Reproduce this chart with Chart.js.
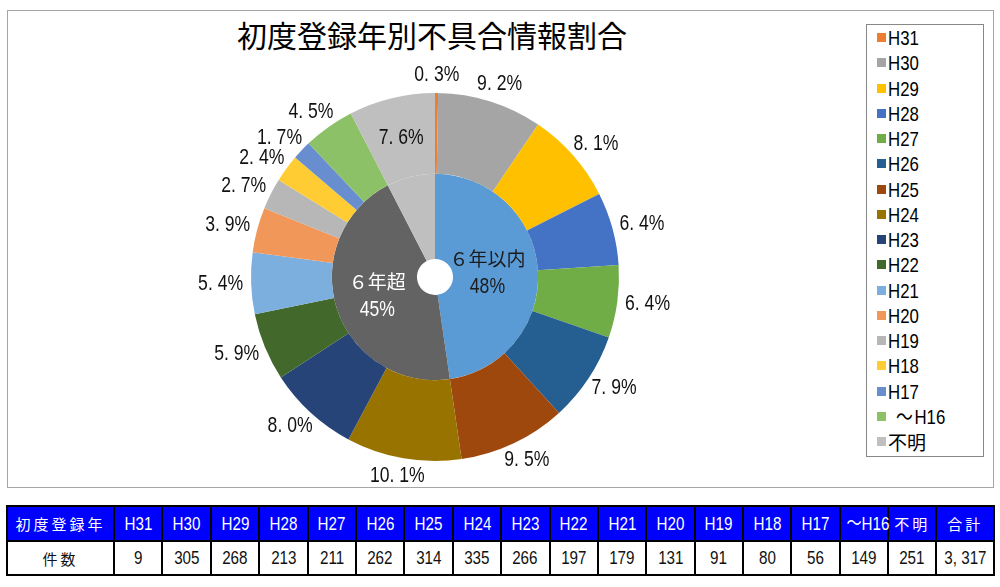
<!DOCTYPE html>
<html>
<head>
<meta charset="utf-8">
<script src="https://cdn.jsdelivr.net/npm/chart.js@4/dist/chart.umd.min.js"></script>
<style>
  body { margin: 0; background: #fff; width: 1000px; height: 587px; position: relative; overflow: hidden; }
  #frame { position: absolute; left: 7px; top: 10px; width: 985px; height: 476px; border: 1px solid #a6a6a6; }
  #title { position: absolute; left: 0; top: 17px; width: 864px; text-align: center;
    font: 30px "Noto Sans CJK JP", sans-serif; line-height: 34px; color: #000; }
  #wrap { position: absolute; left: 0; top: 0; width: 860px; height: 490px; }
  #legend { position: absolute; left: 866px; top: 24px; width: 118px; height: 433px; border: 1px solid #888;
    box-sizing: border-box; padding-top: 0; }
  #legend div { height: 25.25px; display: flex; align-items: center; font: 21px "Liberation Sans", sans-serif;
    color: #000; white-space: nowrap; }
  #legend span { flex: none; width: 9px; height: 9px; margin: 0 2px 0 10px; }
  #legend b { display: block; font-weight: normal; line-height: 1; transform: scaleX(0.8); transform-origin: 0 50%; }
  #legend b.jp { font-family: "Noto Sans CJK JP", sans-serif; font-size: 19px; transform: none; }
  .til { font-family: "Noto Sans CJK JP", sans-serif; line-height: 1; }
  table { position: absolute; left: 6px; top: 505px; border-collapse: collapse; table-layout: fixed; width: 986px; }
  td { border: 2px solid #000; text-align: center; padding: 0; white-space: nowrap;
    font: 19px "Liberation Sans", sans-serif; }
  td i { display: inline-block; font-style: normal; transform: scaleX(0.8); }
  tr.head td { background: #0000ff; color: #fff; height: 33px; }
  tr.body td { background: #fff; color: #111; height: 32px; }
  td.jp { font-family: "Noto Sans CJK JP", sans-serif; font-size: 15px; letter-spacing: 3px; }
</style>
</head>
<body>
<div id="frame"></div>
<div id="title">初度登録年別不具合情報割合</div>
<div id="wrap"><canvas id="grafico"></canvas></div>
<div id="legend"></div>
<table id="tabela"></table>
<script>
const years = ['H31', 'H30', 'H29', 'H28', 'H27', 'H26', 'H25', 'H24', 'H23', 'H22', 'H21', 'H20', 'H19', 'H18', 'H17', '～H16', '不明'];
const counts = [9, 305, 268, 213, 211, 262, 314, 335, 266, 197, 179, 131, 91, 80, 56, 149, 251];
const totalCount = 3317;
const groupLabels = ['６年以内', '６年超', '不明'];
const groupCounts = [1582, 1484, 251];

const outerColors = ['#ed7d31', '#a5a5a5', '#ffc000', '#4472c4', '#70ad47', '#255e91', '#9e480e', '#997300',
    '#264478', '#43682b', '#7cafdd', '#f1975a', '#b7b7b7', '#ffcd33', '#698ed0', '#8cc168', '#bfbfbf'];
const innerColors = ['#5b9bd5', '#636363', '#bfbfbf'];

// o til largo precisa da fonte CJK
function marcaTil(s) { return s.replace('～', '<span class="til">～</span>'); }

// legenda
const legend = document.getElementById('legend');
years.forEach(function(y, i) {
    const d = document.createElement('div');
    d.innerHTML = '<span style="background:' + outerColors[i] + '"></span><b' + (y === '不明' ? ' class="jp"' : '') + '>' + marcaTil(y) + '</b>';
    legend.appendChild(d);
});

// tabela
const tabela = document.getElementById('tabela');
let cols = '<colgroup><col style="width:107px">';
years.forEach(function(y, i) { cols += '<col style="width:' + (i === years.length - 1 ? 48 : 48.4) + 'px">'; });
cols += '<col style="width:58px"></colgroup>';
let head = '<tr class="head"><td class="jp">初度登録年</td>';
years.forEach(function(y) {
    if (y === '不明') head += '<td class="jp">' + y + '</td>';
    else head += '<td><i>' + marcaTil(y) + '</i></td>';
});
head += '<td class="jp">合計</td></tr>';
let body = '<tr class="body"><td class="jp">件数</td>';
counts.forEach(function(c) { body += '<td><i>' + c + '</i></td>'; });
body += '<td><i>' + totalCount.toLocaleString('en-US').replace(',', ', ') + '</i></td></tr>';
tabela.innerHTML = cols + head + body;

// texto estreito, como no original
function textoEstreito(ctx, txt, x, y) {
    ctx.save();
    ctx.translate(x, y);
    ctx.scale(0.8, 1);
    ctx.fillText(txt, 0, 0);
    ctx.restore();
}

const rotulos = {
    id: 'rotulos',
    afterDatasetsDraw: function(chart) {
        const ctx = chart.ctx;
        ctx.save();
        ctx.textAlign = 'center';
        ctx.textBaseline = 'middle';

        // anel externo
        const outer = chart.getDatasetMeta(0);
        const last = outer.data.length - 1;
        ctx.font = '22px "Liberation Sans", sans-serif';
        ctx.fillStyle = '#111';
        outer.data.forEach(function(arc, i) {
            const p = arc.getProps(['x', 'y', 'startAngle', 'endAngle', 'outerRadius'], true);
            const txt = (counts[i] / totalCount * 100).toFixed(1).replace('.', '. ') + '%';
            const a = (p.startAngle + p.endAngle) / 2;
            let x, y;
            if (i === last) {
                const c = arc.tooltipPosition(true);
                x = c.x; y = c.y;
            } else {
                const w = ctx.measureText(txt).width * 0.8;
                const r = p.outerRadius + 8;
                x = p.x + Math.cos(a) * (r + w / 2);
                y = p.y + Math.sin(a) * (r + 10);
            }
            textoEstreito(ctx, txt, x, y);
        });

        // anel interno
        const inner = chart.getDatasetMeta(1);
        inner.data.forEach(function(arc, i) {
            if (i > 1) return;
            const c = arc.tooltipPosition(true);
            const pct = Math.round(groupCounts[i] / totalCount * 100) + '%';
            ctx.fillStyle = i === 0 ? '#1b1b1b' : '#ffffff';
            const dx = i === 0 ? -8 : 0;
            ctx.font = '19px "Noto Sans CJK JP", sans-serif';
            ctx.fillText(groupLabels[i], c.x + dx, c.y - 14);
            ctx.font = '22px "Liberation Sans", sans-serif';
            textoEstreito(ctx, pct, c.x + dx, c.y + 14);
        });
        ctx.restore();
    }
};

const chart = new Chart(document.getElementById('grafico').getContext('2d'), {
    type: 'doughnut',
    data: {
        labels: years,
        datasets: [
            {
                data: counts,
                backgroundColor: outerColors,
                borderWidth: 0,
                weight: 0.95
            },
            {
                data: groupCounts,
                backgroundColor: innerColors,
                borderWidth: 0,
                weight: 1
            }
        ]
    },
    options: {
        responsive: true,
        maintainAspectRatio: false,
        animation: false,
        cutout: '9.8%',
        hoverOffset: 0,
        offset: 0,
        layout: { padding: { left: 251, right: 241, top: 93, bottom: 29 } },
        plugins: {
            legend: { display: false },
            title: { display: false },
            tooltip: { enabled: false }
        }
    },
    plugins: [rotulos]
});
</script>
</body>
</html>
